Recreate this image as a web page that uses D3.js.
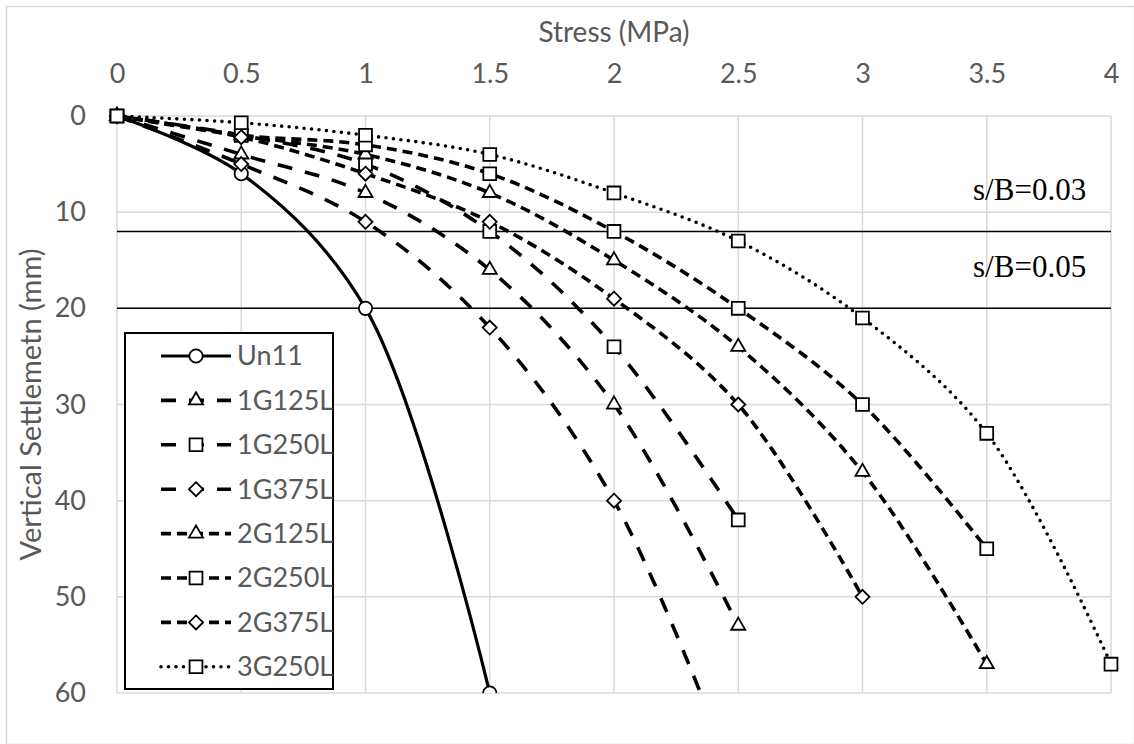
<!DOCTYPE html>
<html>
<head>
<meta charset="utf-8">
<script src="https://cdn.jsdelivr.net/npm/d3@7"></script>
<style>
  body { margin: 0; background: #fff; }
  text { font-family: Lato, "Open Sans", sans-serif; fill: #595959; }
  .grid-lines line { stroke: #d9d9d9; stroke-width: 1.5; }
  .ref-label { font-family: "Liberation Serif", "DejaVu Serif", serif; fill: #000; }
</style>
</head>
<body>
<div class="mainview"></div>
<script>

// data ////////////////////////////////////

const stress = [0, 0.5, 1, 1.5, 2, 2.5, 3, 3.5, 4];

const un11   = [0, 6, 20, 60];
const g1_125 = [0, 4, 8, 16, 30, 53];
const g1_250 = [0, 2, 5, 12, 24, 42];
const g1_375 = [0, 5, 11, 22, 40, 70];
const g2_125 = [0, 2, 4, 8, 15, 24, 37, 57];
const g2_250 = [0, 2, 3, 6, 12, 20, 30, 45];
const g2_375 = [0, 2.2, 6, 11, 19, 30, 50];
const g3_250 = [0, 0.7, 2, 4, 8, 13, 21, 33, 57];

const seriesNames = ["Un11", "1G125L", "1G250L", "1G375L", "2G125L", "2G250L", "2G375L", "3G250L"];
const seriesValues = [un11, g1_125, g1_250, g1_375, g2_125, g2_250, g2_375, g3_250];

const xTicks = [0, 0.5, 1, 1.5, 2, 2.5, 3, 3.5, 4];
const yTicks = [0, 10, 20, 30, 40, 50, 60];

const limitValues = [12, 20];
const limitLabels = ["s/B=0.03", "s/B=0.05"];

// styles ////////////////////////////////////

const styleFor = {
    "Un11":   { dash: null,    cap: "butt",  width: 3.2, marker: "circle" },
    "1G125L": { dash: "15,13", cap: "butt",  width: 3.6, marker: "triangle" },
    "1G250L": { dash: "15,13", cap: "butt",  width: 3.6, marker: "square" },
    "1G375L": { dash: "15,13", cap: "butt",  width: 3.6, marker: "diamond" },
    "2G125L": { dash: "10,6",  cap: "butt",  width: 3.6, marker: "triangle" },
    "2G250L": { dash: "10,6",  cap: "butt",  width: 3.6, marker: "square" },
    "2G375L": { dash: "10,6",  cap: "butt",  width: 3.6, marker: "diamond" },
    "3G250L": { dash: "0,7.5", cap: "round", width: 3.6, marker: "square" }
};

// diamond as a square turned by 45 degrees
const squareDiamond = {
    draw(context, size) {
        const r = Math.sqrt(size / 2);
        context.moveTo(0, -r);
        context.lineTo(r, 0);
        context.lineTo(0, r);
        context.lineTo(-r, 0);
        context.closePath();
    }
};

const symbolType = {
    circle: d3.symbolCircle,
    triangle: d3.symbolTriangle,
    square: d3.symbolSquare,
    diamond: squareDiamond
};
const symbolSize = { circle: 140, triangle: 85, square: 165, diamond: 98 };

const dim = { width: 1134, height: 744 };
const margin = { top: 116, right: 20, bottom: 51, left: 117 };

const x = d3.scaleLinear()
    .domain([0, 4])
    .range([margin.left, dim.width - margin.right - 3]);

const y = d3.scaleLinear()
    .domain([0, 60])
    .range([margin.top, dim.height - margin.bottom]);

const svg = d3.select(".mainview").append("svg")
    .attr("width", dim.width)
    .attr("height", dim.height);

svg.append("rect")
    .attr("x", 6.5).attr("y", 6.5)
    .attr("width", dim.width - 6).attr("height", dim.height - 6)
    .attr("fill", "white")
    .attr("stroke", "#d9d9d9")
    .attr("stroke-width", 1.5);

// grid ////////////////////////////////////

const grid = svg.append("g").attr("class", "grid-lines");
grid.selectAll("line.v")
    .data(xTicks)
    .join("line")
    .attr("class", "v")
    .attr("x1", d => x(d)).attr("x2", d => x(d))
    .attr("y1", y(0)).attr("y2", y(60));
grid.selectAll("line.h")
    .data(yTicks)
    .join("line")
    .attr("class", "h")
    .attr("x1", x(0)).attr("x2", x(4))
    .attr("y1", d => y(d)).attr("y2", d => y(d));

// axes ////////////////////////////////////

const xAxis = d3.axisTop(x)
    .tickValues(xTicks)
    .tickFormat(d3.format("~g"))
    .tickSize(0)
    .tickPadding(33);

svg.append("g")
    .attr("transform", `translate(0, ${ margin.top })`)
    .call(xAxis)
    .call(g => g.select(".domain").remove())
    .call(g => g.selectAll("text").style("font-size", "27px").style("fill", "#595959"));

const yAxis = d3.axisLeft(y)
    .tickValues(yTicks)
    .tickSize(0)
    .tickPadding(31);

svg.append("g")
    .attr("transform", `translate(${ margin.left }, 0)`)
    .call(yAxis)
    .call(g => g.select(".domain").remove())
    .call(g => g.selectAll("text").style("font-size", "27px").style("fill", "#595959"));

svg.append("text")
    .attr("x", (x(0) + x(4)) / 2)
    .attr("y", 42)
    .attr("text-anchor", "middle")
    .style("font-size", "28px")
    .text("Stress (MPa)");

svg.append("text")
    .attr("transform", `translate(41, ${ (y(0) + y(60)) / 2 }) rotate(-90)`)
    .attr("text-anchor", "middle")
    .style("font-size", "29px")
    .text("Vertical Settlemetn (mm)");

// limit lines ////////////////////////////////////

svg.append("g")
    .selectAll("line")
    .data(limitValues)
    .join("line")
    .attr("x1", x(0)).attr("x2", x(4))
    .attr("y1", d => y(d)).attr("y2", d => y(d))
    .attr("stroke", "#000")
    .attr("stroke-width", 1.5);

svg.append("g")
    .selectAll("text")
    .data(limitLabels)
    .join("text")
    .attr("class", "ref-label")
    .attr("x", x(3.9))
    .attr("y", (d, i) => y(limitValues[i]) - 31)
    .attr("text-anchor", "end")
    .style("font-size", "31px")
    .text(d => d);

// series ////////////////////////////////////

svg.append("clipPath").attr("id", "plot-clip")
    .append("rect")
    .attr("x", x(0) - 10).attr("y", y(0) - 10)
    .attr("width", x(4) - x(0) + 20)
    .attr("height", y(60) - y(0) + 10);

const line = d3.line()
    .curve(d3.curveCatmullRom.alpha(0.5))
    .x(d => x(d[0]))
    .y(d => y(d[1]));

const plot = svg.append("g").attr("clip-path", "url(#plot-clip)");

seriesNames.forEach((name, k) => {
    const st = styleFor[name];
    const pts = seriesValues[k].map((v, i) => [stress[i], v]);
    const g = plot.append("g");

    g.append("path")
        .attr("d", line(pts))
        .attr("fill", "none")
        .attr("stroke", "#000")
        .attr("stroke-width", st.width)
        .attr("stroke-linecap", st.cap)
        .attr("stroke-dasharray", st.dash);

    g.selectAll("path.marker")
        .data(pts.filter(d => d[1] <= 60))
        .join("path")
        .attr("class", "marker")
        .attr("transform", d => `translate(${ x(d[0]) }, ${ y(d[1]) })`)
        .attr("d", d3.symbol(symbolType[st.marker], symbolSize[st.marker]))
        .attr("fill", "white")
        .attr("stroke", "#000")
        .attr("stroke-width", 1.8);
});

// legend ////////////////////////////////////

const legend = svg.append("g");
legend.append("rect")
    .attr("x", 125).attr("y", 333)
    .attr("width", 208).attr("height", 356)
    .attr("fill", "white")
    .attr("stroke", "#000")
    .attr("stroke-width", 2);

const rows = legend.selectAll("g.row")
    .data(seriesNames)
    .join("g")
    .attr("class", "row")
    .attr("transform", (d, i) => `translate(0, ${ 356 + i * 44.4 })`);

rows.append("line")
    .attr("x1", 161).attr("x2", 231)
    .attr("stroke", "#000")
    .attr("stroke-width", d => styleFor[d].width)
    .attr("stroke-linecap", d => styleFor[d].cap)
    .attr("stroke-dasharray", d => styleFor[d].dash);

rows.append("path")
    .attr("transform", "translate(196, 0)")
    .attr("d", d => d3.symbol(symbolType[styleFor[d].marker], symbolSize[styleFor[d].marker])())
    .attr("fill", "white")
    .attr("stroke", "#000")
    .attr("stroke-width", 1.8);

rows.append("text")
    .attr("x", 237)
    .attr("dy", "0.35em")
    .style("font-size", "27px")
    .text(d => d);

</script>
</body>
</html>
